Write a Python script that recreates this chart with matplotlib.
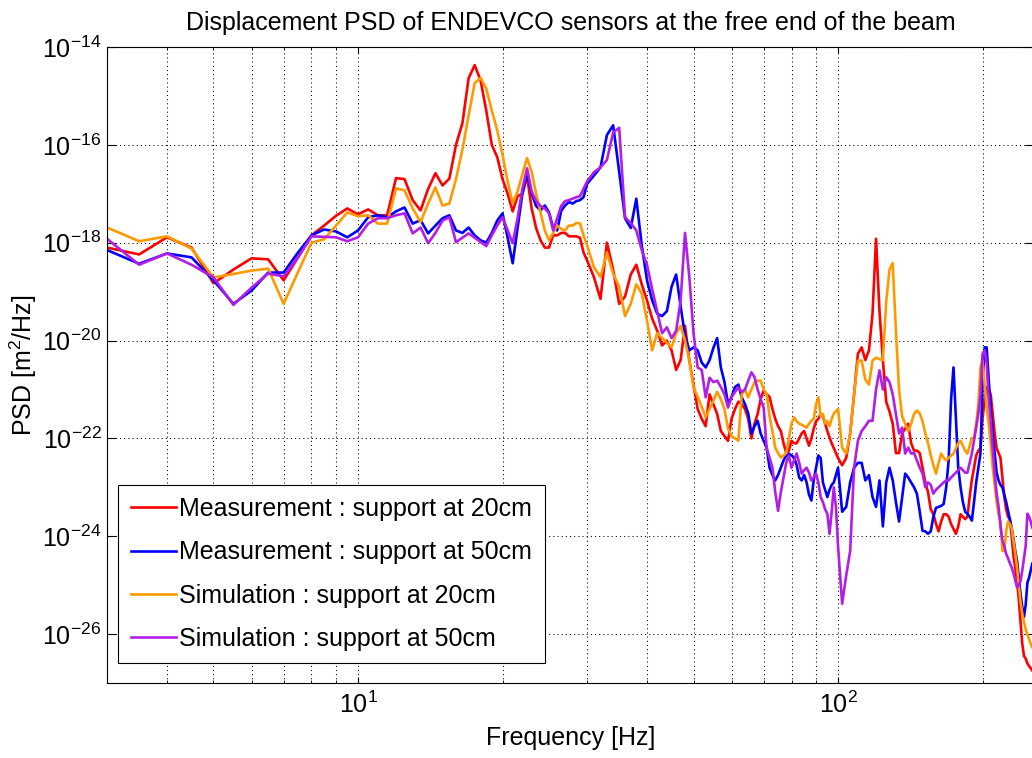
import numpy as np
import matplotlib
matplotlib.use('Agg')
import matplotlib.pyplot as plt
from matplotlib.ticker import FixedLocator, LogLocator, LogFormatterSciNotation, NullFormatter, NullLocator

plt.rcParams['font.family'] = ['Liberation Sans', 'DejaVu Sans']
plt.rcParams['mathtext.default'] = 'regular'

# frequency bins [Hz]: 0.5 Hz up to 30, 1 Hz up to 100, 2 Hz above
freq = np.concatenate([np.arange(3, 30.5, 0.5), np.arange(31, 101, 1), np.arange(102, 257, 2)])

# PSD values, stored as log10 [m^2/Hz]
meas_20 = [
    -18.10, -18.24, -17.89, -18.10, -18.83, -18.55, -18.32, -18.34, -18.77, -18.30,
    -17.85, -17.65, -17.45, -17.30, -17.42, -17.32, -17.44, -17.44, -16.68, -16.70,
    -17.13, -17.34, -16.90, -16.58, -16.83, -16.69, -16.00, -15.56, -14.64, -14.37,
    -14.68, -15.30, -16.00, -16.25, -16.70, -17.00, -17.36, -17.05, -17.00, -16.64,
    -17.30, -17.70, -17.95, -18.10, -18.10, -17.85, -17.85, -17.80, -17.80, -17.87,
    -17.87, -17.87, -17.90, -18.20, -18.36,
    # 31..100 Hz
    -18.70, -19.15, -18.00, -18.55, -19.25, -19.10, -18.65, -18.45, -18.85, -19.18,
    -19.55, -19.80, -20.10, -20.00, -20.20, -20.60, -20.40, -19.70, -20.40, -20.90,
    -21.40, -21.60, -21.75, -21.10, -21.30, -21.50, -21.85, -21.95, -22.05, -21.60,
    -21.40, -21.25, -21.30, -21.40, -21.60, -22.00, -21.70, -21.50, -21.20, -21.02,
    -21.10, -21.15, -21.40, -21.60, -21.75, -21.85, -22.10, -22.30, -22.25, -22.05,
    -22.10, -22.10, -22.00, -21.90, -21.85, -22.00, -22.15, -22.00, -21.80, -21.65,
    -21.60, -21.50, -21.55, -21.70, -21.85, -21.98, -22.10, -22.20, -22.30, -22.40,
    # 102..256 Hz
    -22.55, -22.40, -21.90, -21.10, -20.27, -20.14, -20.40, -20.20, -19.45, -17.92,
    -19.40, -20.40, -21.25, -21.45, -21.70, -22.30, -22.30, -21.90, -21.80, -21.70,
    -22.10, -22.25, -22.25, -22.30, -22.60, -22.90, -23.10, -23.45, -23.55, -23.75,
    -23.90, -23.70, -23.55, -23.55, -23.60, -23.75, -23.85, -23.95, -23.80, -23.55,
    -23.60, -23.65, -23.60, -23.20, -22.85, -22.60, -22.35, -22.25, -22.20, -21.60,
    -21.20, -20.96, -21.00, -21.10, -21.50, -21.90, -22.20, -22.30, -22.40, -22.80,
    -23.20, -23.45, -23.60, -23.65, -24.00, -24.40, -24.65, -24.90, -25.30, -25.75,
    -26.20, -26.45, -26.50, -26.60, -26.65, -26.70, -26.75, -26.70,
]

meas_50 = [
    -18.15, -18.43, -18.22, -18.30, -18.77, -19.25, -18.98, -18.61, -18.61, -18.20,
    -17.85, -17.73, -17.77, -17.89, -17.75, -17.48, -17.44, -17.48, -17.36, -17.28,
    -17.61, -17.54, -17.81, -17.65, -17.50, -17.44, -17.75, -17.80, -17.69, -17.85,
    -17.95, -18.00, -17.80, -17.55, -17.40, -17.90, -18.42, -17.70, -17.00, -16.58,
    -17.00, -17.25, -17.34, -17.24, -17.38, -17.70, -17.75, -17.35, -17.24, -17.17,
    -17.20, -17.15, -17.13, -17.07, -16.80,
    -16.63, -16.46, -15.80, -15.60, -16.55, -17.50, -17.70, -17.10, -18.05, -18.77,
    -19.18, -19.45, -19.50, -19.40, -18.90, -18.65, -19.30, -19.90, -20.20, -20.14,
    -20.20, -20.45, -20.55, -20.40, -20.15, -19.95, -20.55, -20.85, -21.30, -21.15,
    -20.95, -20.90, -21.16, -21.30, -21.49, -21.90, -21.75, -21.64, -21.90, -22.05,
    -22.19, -22.60, -22.75, -22.86, -22.75, -22.60, -22.45, -22.35, -22.31, -22.35,
    -22.39, -22.55, -22.80, -22.86, -22.75, -22.90, -23.15, -23.27, -22.85, -22.60,
    -22.35, -22.40, -22.90, -23.05, -23.20, -23.05, -22.95, -22.90, -22.75, -22.60,
    -23.50, -23.40, -22.90, -22.60, -22.50, -22.50, -22.86, -22.75, -23.20, -23.40,
    -22.86, -23.80, -22.90, -22.60, -22.86, -23.30, -23.70, -23.20, -22.72, -22.80,
    -22.90, -23.00, -23.13, -23.50, -23.89, -23.90, -23.95, -23.90, -23.60, -23.42,
    -23.40, -23.38, -23.34, -23.00, -22.45, -21.20, -20.55, -21.60, -22.60, -23.00,
    -23.30, -23.50, -23.54, -23.60, -23.68, -23.30, -22.90, -22.60, -22.31, -20.90,
    -20.14, -20.14, -20.80, -21.37, -21.90, -22.30, -22.70, -22.86, -22.95, -23.00,
    -23.15, -23.30, -23.48, -23.65, -23.83, -24.05, -24.30, -24.50, -24.85, -25.18,
    -25.45, -25.65, -25.40, -24.95, -24.85, -24.70, -24.55, -24.60,
]

sim_20 = [
    -17.69, -17.97, -17.87, -18.12, -18.71, -18.64, -18.57, -18.53, -19.25, -18.60,
    -18.00, -17.93, -17.65, -17.38, -17.46, -17.44, -17.61, -17.61, -16.89, -16.93,
    -17.30, -17.58, -17.20, -16.87, -17.24, -17.20, -16.70, -16.10, -15.40, -14.74,
    -14.63, -14.85, -15.30, -15.70, -16.20, -16.75, -17.20, -16.95, -16.60, -16.27,
    -16.55, -17.00, -17.38, -17.75, -17.95, -17.80, -17.65, -17.72, -17.75, -17.65,
    -17.65, -17.60, -17.60, -17.85, -18.05,
    -18.50, -18.70, -18.20, -18.63, -18.90, -19.50, -19.25, -18.85, -19.04, -19.59,
    -20.20, -19.85, -19.95, -20.05, -20.14, -19.85, -19.70, -20.00, -20.40, -20.96,
    -21.15, -21.35, -21.57, -21.40, -21.23, -21.05, -21.20, -21.40, -21.80, -21.95,
    -22.00, -22.05, -21.10, -21.00, -21.16, -21.00, -20.85, -20.82, -20.82, -21.00,
    -21.10, -21.55, -21.85, -22.19, -22.30, -22.39, -22.35, -22.30, -22.00, -21.70,
    -21.57, -21.65, -21.70, -21.72, -21.75, -21.78, -21.70, -21.64, -21.60, -21.30,
    -21.16, -21.55, -21.50, -21.70, -21.65, -21.75, -21.60, -21.49, -21.45, -21.40,
    -22.19, -22.31, -21.90, -21.10, -20.41, -20.41, -20.80, -20.90, -20.41, -20.35,
    -20.38, -20.40, -19.20, -18.55, -18.42, -19.80, -21.00, -21.55, -21.70, -21.85,
    -21.70, -21.50, -21.43, -21.49, -21.65, -21.90, -22.10, -22.35, -22.55, -22.72,
    -22.50, -22.31, -22.40, -22.45, -22.40, -22.35, -22.31, -22.20, -22.10, -22.05,
    -22.15, -22.25, -22.31, -22.15, -22.00, -21.98, -21.70, -21.30, -20.55, -20.41,
    -20.90, -21.37, -21.70, -22.10, -22.60, -22.95, -23.30, -23.55, -23.70, -24.30,
    -24.30, -23.90, -23.70, -23.75, -23.83, -24.10, -24.35, -24.64, -25.00, -25.35,
    -25.59, -25.75, -25.90, -26.00, -26.10, -26.20, -26.28, -26.30,
]

sim_50 = [
    -17.92, -18.45, -18.22, -18.45, -18.71, -19.27, -18.92, -18.63, -18.69, -18.30,
    -17.87, -17.88, -17.89, -17.97, -17.89, -17.61, -17.50, -17.50, -17.44, -17.40,
    -17.81, -17.69, -18.01, -17.80, -17.55, -17.48, -17.99, -17.90, -17.81, -17.90,
    -17.99, -18.07, -17.85, -17.65, -17.48, -17.75, -18.01, -17.50, -16.90, -16.48,
    -16.95, -17.15, -17.25, -17.30, -17.40, -17.75, -17.50, -17.25, -17.15, -17.13,
    -17.10, -17.07, -17.05, -16.90, -16.75,
    -16.56, -16.46, -16.31, -15.75, -15.65, -17.48, -17.60, -17.75, -18.15, -18.45,
    -18.95, -19.40, -19.85, -19.73, -19.95, -19.80, -19.18, -17.80, -18.70, -19.85,
    -20.55, -20.60, -21.16, -20.76, -20.85, -20.82, -20.95, -21.10, -21.37, -21.16,
    -21.05, -20.96, -21.05, -21.00, -20.82, -20.65, -20.75, -21.00, -21.20, -21.37,
    -22.19, -22.40, -22.60, -23.10, -23.48, -23.10, -22.80, -22.50, -22.35, -22.60,
    -22.45, -22.31, -22.50, -22.72, -22.65, -22.60, -22.70, -22.86, -22.80, -22.72,
    -22.90, -23.20, -23.30, -23.45, -23.54, -23.95, -23.50, -23.00, -23.40, -24.20,
    -25.38, -24.80, -24.30, -22.60, -22.05, -21.85, -21.75, -21.64, -21.64, -21.00,
    -20.61, -21.00, -20.75, -20.85, -21.10, -21.50, -21.90, -21.78, -22.31, -22.19,
    -22.31, -22.30, -22.45, -22.60, -22.72, -23.00, -22.90, -22.95, -23.13, -23.05,
    -23.00, -22.95, -22.90, -22.86, -22.86, -22.80, -22.75, -22.70, -22.65, -22.60,
    -22.65, -22.70, -22.70, -22.50, -22.31, -22.05, -21.78, -21.50, -21.10, -20.27,
    -20.20, -20.47, -21.20, -21.64, -22.20, -22.72, -23.13, -23.40, -23.80, -24.09,
    -24.20, -24.36, -24.45, -24.55, -24.64, -24.75, -24.90, -25.05, -25.00, -24.91,
    -24.70, -24.45, -24.20, -23.54, -23.60, -23.70, -23.83, -23.85,
]

labels = ['Measurement : support at 20cm', 'Measurement : support at 50cm',
          'Simulation : support at 20cm', 'Simulation : support at 50cm']
colors = ['#ff0000', '#0000ff', '#ff9900', '#b21ee6']
y_ticks = [1e-26, 1e-24, 1e-22, 1e-20, 1e-18, 1e-16, 1e-14]

fig = plt.figure(figsize=(10.32, 7.58), dpi=100)
ax = fig.add_axes([107 / 1032, 75 / 758, 927 / 1032, 636 / 758])

for vals, c, lab in zip([meas_20, meas_50, sim_20, sim_50], colors, labels):
    ax.loglog(freq, 10.0 ** np.array(vals), color=c, lw=1.9, label=lab)

ax.set_xlim(3, 256)
ax.set_ylim(1e-27, 1e-14)

ax.yaxis.set_major_locator(FixedLocator(y_ticks))
ax.yaxis.set_major_formatter(LogFormatterSciNotation())
ax.yaxis.set_minor_locator(NullLocator())
ax.xaxis.set_major_locator(FixedLocator([10, 100]))
ax.xaxis.set_major_formatter(LogFormatterSciNotation())
ax.xaxis.set_minor_locator(LogLocator(base=10, subs=np.arange(2, 10), numticks=20))
ax.xaxis.set_minor_formatter(NullFormatter())

ax.grid(True, which='major', axis='both', ls=(0, (1, 3)), color='k', lw=0.75)
ax.grid(True, which='minor', axis='x', ls=(0, (1, 3)), color='k', lw=0.75)

ax.tick_params(which='both', direction='in', top=True, right=True, labelsize=18)
ax.tick_params(axis='y', which='major', length=6.5, pad=4)
ax.tick_params(axis='x', which='major', length=4.5, pad=6)
ax.tick_params(axis='x', which='minor', length=2.5)
for sp in ax.spines.values():
    sp.set_linewidth(0.8)

ax.set_title('Displacement PSD of ENDEVCO sensors at the free end of the beam', fontsize=18, pad=12)
ax.set_xlabel('Frequency [Hz]', fontsize=18, labelpad=6)
ax.set_ylabel('PSD [m$^2$/Hz]', fontsize=18, labelpad=2)

leg = ax.legend(loc='lower left', bbox_to_anchor=(0.012, 0.031), borderaxespad=0,
                fontsize=18, fancybox=False, edgecolor='k', framealpha=1,
                handlelength=1.8, handletextpad=0.15, labelspacing=0.77, borderpad=0.5)
leg.get_frame().set_linewidth(0.8)

fig.savefig('out.png', dpi=100)
